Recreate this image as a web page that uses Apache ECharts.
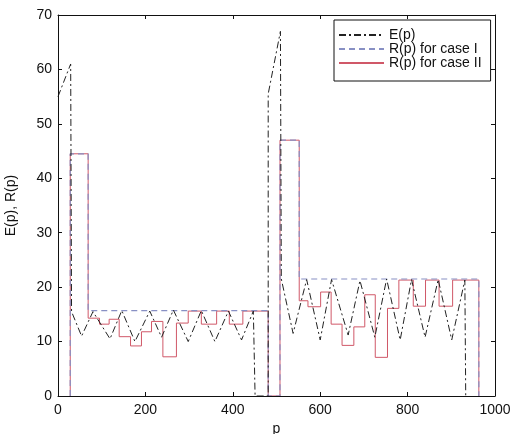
<!DOCTYPE html>
<html>
<head>
<meta charset="utf-8">
<script src="https://cdn.jsdelivr.net/npm/echarts@6/dist/echarts.min.js"></script>
<style>
html,body{margin:0;padding:0;background:#fff;}
#chart{width:520px;height:434px;}
</style>
</head>
<body>
<div id="chart"></div>
<script>
// E(p): sampled curve (p, value)
const eP = [0, 29, 31, 54, 80, 119, 146, 176, 210, 237, 264, 298, 328, 359, 390, 420, 447, 451, 481, 481, 509, 511, 538, 569, 600, 626, 664, 691, 725, 752, 783, 809, 840, 870, 901, 931, 933];
const eV = [55, 61, 15.5, 11, 15.5, 10.5, 15.7, 10, 15.6, 10.8, 15.8, 10, 15.7, 10, 15.6, 10.3, 15.6, 0, 0, 55.5, 67, 21.5, 11.5, 21.4, 10.3, 21.4, 11.2, 21.2, 10.8, 21.5, 10.3, 21.4, 10.8, 21.4, 10.3, 21.3, 0];

// R(p) for case I: step starts (p) and held values
const c1P = [28, 28, 69, 481, 508, 552, 963];
const c1V = [0, 44.5, 15.7, 0, 47, 21.5, 0];

// R(p) for case II: step starts (p) and held values
const c2P = [28, 28, 69, 95, 117, 140, 166, 191, 214, 240, 271, 298, 328, 363, 392, 423, 481, 508, 552, 572, 601, 625, 650, 677, 702, 726, 754, 780, 813, 841, 872, 903, 963];
const c2V = [0, 44.5, 14.3, 13.2, 14.1, 10.9, 9.2, 11.8, 13.7, 7.2, 13.4, 15.6, 13.2, 15.6, 13.2, 15.6, 0, 47, 17.5, 16.4, 19.1, 13.2, 9.3, 12.7, 18.6, 7.1, 16.1, 21.3, 16.5, 21.3, 16.5, 21.3, 0];

const names = ['E(p)', 'R(p) for case I', 'R(p) for case II'];
const xTicks = [0, 200, 400, 600, 800, 1000];
const yTicks = [0, 10, 20, 30, 40, 50, 60, 70];

const zip = (a, b) => a.map((x, i) => [x, b[i]]);
const font = 'Liberation Sans, Arial, sans-serif';

const chart = echarts.init(document.getElementById('chart'));
const axisCommon = {
  axisLine: {show: true, onZero: false, lineStyle: {color: '#111', width: 1}},
  axisTick: {show: true, inside: true, length: 4, lineStyle: {color: '#111'}},
  splitLine: {show: false},
  z: 5
};
chart.setOption({
  animation: false,
  backgroundColor: '#fff',
  grid: {left: 58, top: 15, right: 25, bottom: 38, containLabel: false, outerBoundsMode: 'none'},
  legend: {
    orient: 'vertical',
    left: 334, top: 20,
    padding: [8, 9, 11, 4],
    itemWidth: 45, itemHeight: 8, itemGap: 0,
    backgroundColor: '#fff',
    borderColor: '#111', borderWidth: 1,
    itemStyle: {opacity: 0},
    textStyle: {fontFamily: font, fontSize: 14, color: '#111', lineHeight: 13},
    data: names
  },
  xAxis: [
    Object.assign({type: 'value', min: xTicks[0], max: xTicks[xTicks.length - 1], interval: 200,
      name: 'p', nameLocation: 'middle', nameGap: 16,
      nameTextStyle: {fontFamily: font, fontSize: 14, color: '#111'},
      axisLabel: {fontFamily: font, fontSize: 14, color: '#111', margin: 7, formatter: v => String(v)}}, axisCommon),
    Object.assign({type: 'value', position: 'top', min: 0, max: 1000, interval: 200,
      axisLabel: {show: false}}, axisCommon)
  ],
  yAxis: [
    Object.assign({type: 'value', min: yTicks[0], max: yTicks[yTicks.length - 1], interval: 10,
      name: 'E(p), R(p)', nameLocation: 'middle', nameGap: 40,
      nameTextStyle: {fontFamily: font, fontSize: 14, color: '#111'},
      axisLabel: {fontFamily: font, fontSize: 14, color: '#111', margin: 6, formatter: v => String(v)}}, axisCommon),
    Object.assign({type: 'value', position: 'right', min: 0, max: 70, interval: 10,
      axisLabel: {show: false}}, axisCommon)
  ],
  series: [
    {name: names[0], type: 'line', symbol: 'none', data: zip(eP, eV),
     lineStyle: {color: '#222', width: 1, type: [7, 3, 2, 3]}, itemStyle: {color: '#222'}, z: 3},
    {name: names[1], type: 'line', symbol: 'none', step: 'end', data: zip(c1P, c1V),
     lineStyle: {color: '#8890c4', width: 1.2, type: [6, 4]}, itemStyle: {color: '#8890c4'}, z: 2},
    {name: names[2], type: 'line', symbol: 'none', step: 'end', data: zip(c2P, c2V),
     lineStyle: {color: '#d05868', width: 1, type: 'solid'}, itemStyle: {color: '#d05868'}, z: 1}
  ]
});
</script>
</body>
</html>
